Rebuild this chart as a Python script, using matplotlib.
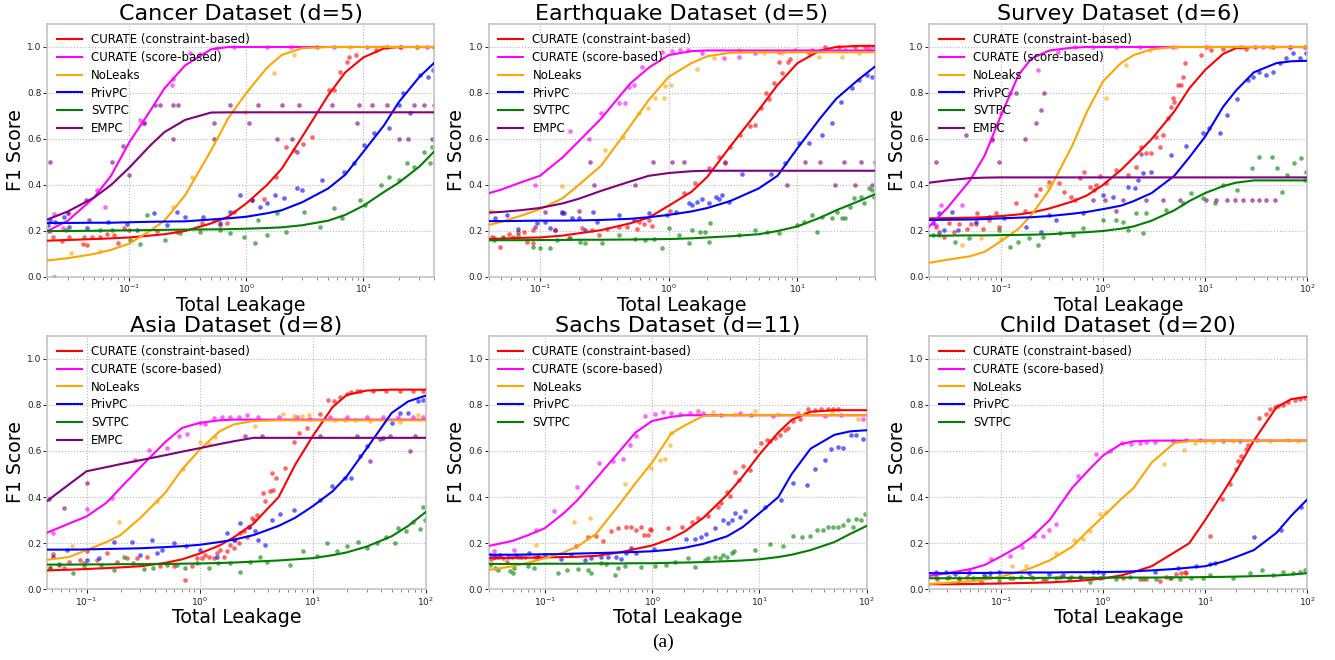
import matplotlib
matplotlib.use("Agg")
import matplotlib.pyplot as plt

# ---------------- DATA ----------------
methods = ["CURATE (constraint-based)", "CURATE (score-based)", "NoLeaks", "PrivPC", "SVTPC", "EMPC"]
colors = ["red", "magenta", "orange", "blue", "green", "purple"]
titles = ["Cancer Dataset (d=5)", "Earthquake Dataset (d=5)", "Survey Dataset (d=6)",
          "Asia Dataset (d=8)", "Sachs Dataset (d=11)", "Child Dataset (d=20)"]
xlims = [(0.02, 40), (0.04, 40), (0.02, 100), (0.045, 100), (0.03, 100), (0.02, 100)]

# ---- Cancer ----
cancer_lx = [0.02, 0.03, 0.05, 0.07, 0.1, 0.15, 0.2, 0.3, 0.5, 0.7, 1, 1.5, 2, 3, 5, 7, 10, 15, 20, 30, 40]
cancer_constraint = [0.158, 0.161, 0.165, 0.168, 0.172, 0.18, 0.186, 0.20, 0.233, 0.262, 0.32, 0.40, 0.47, 0.61, 0.79, 0.89, 0.955, 0.994, 1.0, 1.0, 1.0]
cancer_score = [0.20, 0.245, 0.345, 0.44, 0.585, 0.72, 0.82, 0.92, 0.99, 1.0, 1.0, 1.0, 1.0, 1.0, 1.0, 1.0, 1.0, 1.0, 1.0, 1.0, 1.0]
cancer_noleaks = [0.072, 0.082, 0.10, 0.118, 0.145, 0.20, 0.245, 0.355, 0.55, 0.69, 0.80, 0.91, 0.965, 0.995, 1.0, 1.0, 1.0, 1.0, 1.0, 1.0, 1.0]
cancer_privpc = [0.235, 0.235, 0.236, 0.236, 0.238, 0.24, 0.241, 0.242, 0.25, 0.255, 0.262, 0.277, 0.29, 0.325, 0.385, 0.445, 0.545, 0.66, 0.76, 0.87, 0.93]
cancer_svtpc = [0.20, 0.20, 0.201, 0.202, 0.203, 0.204, 0.205, 0.206, 0.207, 0.208, 0.21, 0.213, 0.216, 0.225, 0.245, 0.27, 0.31, 0.37, 0.41, 0.48, 0.545]
cancer_empc = [0.25, 0.285, 0.345, 0.40, 0.475, 0.57, 0.63, 0.683, 0.715, 0.716, 0.716, 0.716, 0.716, 0.716, 0.716, 0.716, 0.716, 0.716, 0.716, 0.716, 0.716]

cancer_constraint_pts = [(0.0223, 0.172), (0.0266, 0.158), (0.0307, 0.172), (0.0402, 0.142), (0.044, 0.139), (0.0486, 0.172),
    (0.0565, 0.172), (0.0653, 0.187), (0.0735, 0.183), (0.081, 0.146), (0.0895, 0.214), (0.0987, 0.204), (0.172, 0.20),
    (0.255, 0.194), (0.418, 0.236), (0.526, 0.248), (0.60, 0.226), (0.684, 0.236), (0.78, 0.281), (1.12, 0.335),
    (1.41, 0.34), (1.78, 0.436), (2.18, 0.564), (2.54, 0.552), (3.05, 0.577), (3.64, 0.61), (5.06, 0.813), (5.58, 0.813),
    (6.28, 0.893), (7.25, 0.936), (7.5, 0.958), (8.55, 0.965), (12.7, 0.987), (15.9, 1.0), (20.7, 1.0), (28.7, 1.0), (39.9, 1.0)]
cancer_score_pts = [(0.021, 0.20), (0.023, 0.272), (0.027, 0.215), (0.03, 0.277), (0.053, 0.378), (0.062, 0.306), (0.124, 0.683),
    (0.134, 0.668), (0.232, 0.835), (0.235, 0.86), (0.332, 0.975), (0.40, 0.97), (0.56, 0.997), (0.78, 1.0), (1.5, 1.0),
    (2.4, 1.0), (4.0, 1.0), (5.6, 1.0), (10.7, 1.0), (20.8, 1.0), (35, 1.0)]
cancer_noleaks_pts = [(0.032, 0.103), (0.056, 0.114), (0.235, 0.306), (0.343, 0.436), (0.98, 0.719), (1.71, 0.886), (2.54, 0.965),
    (4.0, 1.0), (7.7, 1.0), (14.9, 1.0), (28.7, 1.0), (40, 1.0)]
cancer_privpc_pts = [(0.0204, 0.226), (0.021, 0.248), (0.0233, 0.24), (0.0275, 0.262), (0.0304, 0.219), (0.0434, 0.212),
    (0.0665, 0.238), (0.0955, 0.229), (0.117, 0.204), (0.162, 0.277), (0.21, 0.226), (0.256, 0.284), (0.30, 0.262),
    (0.43, 0.262), (0.60, 0.233), (0.73, 0.284), (0.89, 0.357), (1.12, 0.335), (1.32, 0.306), (1.5, 0.32), (1.77, 0.357),
    (2.08, 0.342), (2.71, 0.386), (3.0, 0.378), (4.43, 0.422), (6.8, 0.458), (8.3, 0.494), (10.1, 0.574), (12.2, 0.625),
    (16.4, 0.646), (20, 0.748), (21.9, 0.80), (25.2, 0.712), (30.6, 0.878), (35.3, 0.871), (39.4, 0.90)]
cancer_svtpc_pts = [(0.0204, 0.20), (0.029, 0.204), (0.041, 0.172), (0.0565, 0.204), (0.071, 0.204), (0.102, 0.161), (0.124, 0.142),
    (0.141, 0.27), (0.203, 0.161), (0.273, 0.19), (0.405, 0.197), (0.60, 0.204), (0.73, 0.19), (0.95, 0.175), (1.19, 0.149),
    (1.27, 0.248), (1.5, 0.183), (1.83, 0.277), (2.16, 0.197), (3.09, 0.284), (4.29, 0.219), (5.58, 0.299), (6.56, 0.255),
    (9.4, 0.335), (10.4, 0.313), (14, 0.40), (16.4, 0.436), (20, 0.422), (23.6, 0.494), (26.9, 0.48), (32.7, 0.545),
    (37.3, 0.494), (38.7, 0.567)]
cancer_empc_pts = [(0.021, 0.499), (0.023, 0.0), (0.03, 0.28), (0.043, 0.335), (0.045, 0.248), (0.071, 0.499), (0.089, 0.571),
    (0.10, 0.443), (0.134, 0.668), (0.166, 0.749), (0.184, 0.749), (0.235, 0.749), (0.235, 0.60), (0.259, 0.749),
    (0.526, 0.60), (0.526, 0.668), (0.73, 0.749), (1.05, 0.668), (1.27, 0.749), (1.83, 0.60), (2.0, 0.749), (2.45, 0.60),
    (2.71, 0.545), (2.8, 0.749), (5.4, 0.749), (8.8, 0.668), (9.1, 0.749), (11.9, 0.749), (15.9, 0.749), (20, 0.60),
    (24, 0.60), (27, 0.749), (32.7, 0.749), (38.7, 0.60), (40, 0.749)]

# ---- Earthquake ----
earth_lx = [0.04, 0.05, 0.07, 0.1, 0.15, 0.2, 0.3, 0.5, 0.7, 1, 1.5, 2, 3, 5, 7, 10, 15, 20, 30, 40]
earth_constraint = [0.165, 0.167, 0.17, 0.172, 0.18, 0.19, 0.204, 0.233, 0.258, 0.31, 0.37, 0.436, 0.567, 0.726, 0.835, 0.93, 0.985, 1.0, 1.005, 1.005]
earth_score = [0.364, 0.38, 0.41, 0.44, 0.52, 0.59, 0.69, 0.84, 0.91, 0.965, 0.982, 0.985, 0.985, 0.985, 0.985, 0.985, 0.985, 0.985, 0.985, 0.985]
earth_noleaks = [0.226, 0.24, 0.265, 0.295, 0.342, 0.40, 0.485, 0.655, 0.77, 0.87, 0.93, 0.96, 0.975, 0.977, 0.977, 0.977, 0.977, 0.977, 0.977, 0.977]
earth_privpc = [0.243, 0.243, 0.244, 0.245, 0.245, 0.246, 0.248, 0.253, 0.26, 0.27, 0.285, 0.30, 0.33, 0.385, 0.44, 0.56, 0.69, 0.775, 0.86, 0.915]
earth_svtpc = [0.16, 0.16, 0.16, 0.161, 0.161, 0.162, 0.162, 0.163, 0.164, 0.165, 0.168, 0.172, 0.177, 0.186, 0.20, 0.22, 0.258, 0.29, 0.33, 0.36]
earth_empc = [0.28, 0.283, 0.29, 0.30, 0.32, 0.34, 0.375, 0.415, 0.44, 0.452, 0.46, 0.462, 0.462, 0.462, 0.462, 0.462, 0.462, 0.462, 0.462, 0.462]

earth_constraint_pts = [(0.0424, 0.172), (0.044, 0.17), (0.049, 0.132), (0.052, 0.171), (0.057, 0.186), (0.062, 0.175),
    (0.068, 0.196), (0.075, 0.196), (0.079, 0.154), (0.088, 0.149), (0.088, 0.204), (0.132, 0.204), (0.169, 0.171),
    (0.212, 0.212), (0.254, 0.204), (0.289, 0.183), (0.332, 0.207), (0.409, 0.216), (0.474, 0.219), (0.567, 0.207),
    (0.584, 0.24), (0.639, 0.23), (0.70, 0.248), (0.742, 0.223), (1.03, 0.287), (1.31, 0.367), (1.61, 0.41), (2.04, 0.472),
    (2.47, 0.523), (2.75, 0.497), (3.0, 0.567), (3.6, 0.617), (4.3, 0.657), (4.71, 0.66), (5.25, 0.733), (5.65, 0.80),
    (6.0, 0.772), (6.55, 0.842), (7.17, 0.936), (7.6, 0.886), (8.5, 0.936), (8.8, 0.95), (12.2, 0.972), (16.5, 1.0),
    (21, 1.0), (28, 1.0), (33.7, 1.0), (39, 1.0)]
earth_score_pts = [(0.091, 0.40), (0.172, 0.635), (0.242, 0.599), (0.30, 0.711), (0.409, 0.755), (0.46, 0.758), (0.49, 0.825),
    (0.535, 0.835), (0.62, 0.914), (0.887, 0.98), (1.06, 0.984), (1.22, 0.987), (1.41, 0.987), (1.81, 0.972), (2.68, 0.954),
    (3.5, 0.958), (4.71, 0.972), (7.17, 0.98), (9.6, 0.987), (13, 0.987), (23.6, 0.987), (35.8, 0.994)]
earth_noleaks_pts = [(0.0418, 0.287), (0.148, 0.397), (0.322, 0.552), (0.442, 0.61), (0.585, 0.711), (0.69, 0.733),
    (0.788, 0.777), (0.914, 0.78), (0.94, 0.832), (1.05, 0.835), (1.66, 0.903), (2.24, 0.954), (3.5, 0.987), (5.47, 0.972),
    (7.6, 0.972), (14.6, 0.958), (22, 0.958), (30, 0.972)]
earth_privpc_pts = [(0.045, 0.255), (0.055, 0.27), (0.068, 0.207), (0.095, 0.233), (0.11, 0.24), (0.12, 0.214), (0.148, 0.284),
    (0.153, 0.277), (0.177, 0.255), (0.20, 0.255), (0.225, 0.204), (0.26, 0.284), (0.277, 0.24), (0.409, 0.27),
    (0.535, 0.248), (0.70, 0.277), (0.97, 0.27), (1.13, 0.284), (1.43, 0.32), (1.52, 0.313), (1.66, 0.328), (1.81, 0.338),
    (2.04, 0.32), (2.33, 0.349), (2.45, 0.339), (2.6, 0.357), (2.93, 0.328), (3.7, 0.446), (6.2, 0.446), (8.06, 0.494),
    (10.3, 0.581), (12.2, 0.581), (15.5, 0.617), (18.6, 0.668), (21.6, 0.762), (26.5, 0.82), (29.8, 0.857), (34.6, 0.878),
    (37.9, 0.871)]
earth_svtpc_pts = [(0.0436, 0.161), (0.052, 0.175), (0.068, 0.183), (0.088, 0.132), (0.1, 0.125), (0.12, 0.125), (0.136, 0.161),
    (0.172, 0.168), (0.206, 0.154), (0.225, 0.146), (0.304, 0.149), (0.409, 0.183), (0.55, 0.164), (0.66, 0.161),
    (0.765, 0.164), (0.887, 0.125), (1.0, 0.212), (1.2, 0.183), (1.43, 0.146), (1.52, 0.204), (1.76, 0.197), (1.9, 0.197),
    (2.04, 0.154), (2.1, 0.236), (3.5, 0.183), (4.71, 0.204), (5.8, 0.197), (7.17, 0.19), (9.9, 0.226), (11.2, 0.241),
    (13, 0.27), (14.2, 0.197), (15.5, 0.262), (18.6, 0.255), (20.4, 0.284), (22.2, 0.255), (23.6, 0.255), (25.8, 0.306),
    (27.4, 0.342), (30.9, 0.349), (32.7, 0.32), (35.8, 0.386), (37.9, 0.378), (39.5, 0.349)]
earth_empc_pts = [(0.092, 0.219), (0.11, 0.284), (0.132, 0.204), (0.148, 0.28), (0.20, 0.287), (0.246, 0.499), (0.262, 0.40),
    (0.545, 0.40), (0.75, 0.499), (1.06, 0.499), (1.31, 0.499), (2.75, 0.499), (8.3, 0.40), (11.5, 0.499), (15, 0.499),
    (19.7, 0.40), (22.9, 0.499), (28, 0.40), (30.9, 0.499), (37.9, 0.40), (40, 0.499)]

# ---- Survey ----
survey_lx = [0.02, 0.03, 0.05, 0.07, 0.1, 0.15, 0.2, 0.3, 0.5, 0.7, 1, 1.5, 2, 3, 5, 7, 10, 15, 20, 30, 50, 70, 100]
survey_constraint = [0.255, 0.256, 0.258, 0.26, 0.265, 0.272, 0.28, 0.298, 0.328, 0.355, 0.40, 0.465, 0.52, 0.60, 0.72, 0.82, 0.90, 0.97, 0.995, 1.0, 1.0, 1.0, 1.0]
survey_score = [0.22, 0.30, 0.42, 0.53, 0.70, 0.88, 0.95, 0.985, 0.997, 1.0, 1.0, 1.0, 1.0, 1.0, 1.0, 1.0, 1.0, 1.0, 1.0, 1.0, 1.0, 1.0, 1.0]
survey_noleaks = [0.062, 0.075, 0.09, 0.11, 0.155, 0.21, 0.27, 0.38, 0.57, 0.72, 0.85, 0.93, 0.965, 0.99, 1.0, 1.0, 1.0, 1.0, 1.0, 1.0, 1.0, 1.0, 1.0]
survey_privpc = [0.248, 0.249, 0.25, 0.252, 0.255, 0.258, 0.26, 0.265, 0.275, 0.283, 0.295, 0.31, 0.33, 0.365, 0.44, 0.52, 0.61, 0.74, 0.81, 0.89, 0.93, 0.938, 0.94]
survey_svtpc = [0.18, 0.18, 0.181, 0.181, 0.182, 0.183, 0.184, 0.186, 0.192, 0.195, 0.20, 0.21, 0.22, 0.245, 0.29, 0.33, 0.365, 0.395, 0.41, 0.42, 0.42, 0.42, 0.42]
survey_empc = [0.41, 0.42, 0.43, 0.432, 0.433, 0.433, 0.433, 0.433, 0.433, 0.433, 0.433, 0.433, 0.433, 0.433, 0.433, 0.433, 0.433, 0.433, 0.433, 0.433, 0.433, 0.433, 0.433]

survey_constraint_pts = [(0.0232, 0.219), (0.028, 0.175), (0.031, 0.233), (0.035, 0.194), (0.039, 0.23), (0.047, 0.209),
    (0.051, 0.23), (0.057, 0.23), (0.059, 0.277), (0.067, 0.21), (0.077, 0.248), (0.09, 0.277), (0.097, 0.219),
    (0.141, 0.323), (0.171, 0.288), (0.222, 0.357), (0.24, 0.384), (0.30, 0.413), (0.37, 0.41), (0.42, 0.371),
    (0.49, 0.349), (0.53, 0.335), (0.59, 0.432), (0.66, 0.458), (0.74, 0.393), (0.81, 0.378), (0.85, 0.40), (0.93, 0.439),
    (1.08, 0.407), (1.35, 0.465), (1.76, 0.443), (2.12, 0.48), (2.38, 0.567), (2.66, 0.538), (2.98, 0.538), (3.33, 0.61),
    (3.6, 0.567), (3.87, 0.617), (4.34, 0.69), (4.67, 0.74), (4.85, 0.777), (5.0, 0.762), (5.43, 0.835), (5.86, 0.835),
    (6.1, 0.871), (6.3, 0.929), (9.2, 0.965), (11.5, 0.987), (15, 0.991), (25, 0.991), (31, 1.0), (46, 1.0), (67, 1.0), (95, 1.0)]
survey_score_pts = [(0.023, 0.226), (0.026, 0.313), (0.042, 0.313), (0.083, 0.596), (0.10, 0.712), (0.23, 0.90), (0.36, 0.98),
    (0.53, 1.0), (0.8, 1.0), (1.35, 1.0), (2.3, 1.0), (4.85, 1.0), (10.3, 1.0), (22, 1.0), (37, 1.0), (67, 1.0), (95, 1.0)]
survey_noleaks_pts = [(0.042, 0.139), (0.064, 0.168), (0.10, 0.164), (0.29, 0.396), (1.08, 0.78), (1.69, 0.922), (2.86, 0.987),
    (5.2, 1.0), (11, 1.0), (23.6, 1.0), (43, 1.0), (95, 1.0)]
survey_privpc_pts = [(0.0216, 0.236), (0.025, 0.277), (0.028, 0.204), (0.033, 0.281), (0.038, 0.204), (0.057, 0.238),
    (0.077, 0.262), (0.108, 0.255), (0.177, 0.219), (0.249, 0.197), (0.30, 0.27), (0.35, 0.248), (0.64, 0.277),
    (1.0, 0.357), (1.25, 0.349), (1.76, 0.393), (2.04, 0.386), (2.2, 0.422), (2.47, 0.451), (2.98, 0.458), (4.67, 0.53),
    (6.55, 0.57), (9.5, 0.625), (11, 0.646), (13.9, 0.625), (16.2, 0.704), (20.3, 0.774), (26.3, 0.857), (29.5, 0.871),
    (34, 0.893), (39.8, 0.878), (46, 0.893), (54, 0.929), (62, 0.951), (73, 0.972), (85, 0.951), (98, 0.972)]
survey_svtpc_pts = [(0.0216, 0.183), (0.025, 0.183), (0.036, 0.154), (0.049, 0.168), (0.097, 0.204), (0.122, 0.132),
    (0.147, 0.154), (0.19, 0.168), (0.23, 0.139), (0.258, 0.175), (0.376, 0.19), (0.51, 0.183), (0.64, 0.212), (1.0, 0.248),
    (1.35, 0.248), (1.57, 0.241), (1.76, 0.204), (2.12, 0.277), (2.47, 0.19), (2.66, 0.277), (4.17, 0.291), (6.1, 0.32),
    (7.35, 0.364), (9.5, 0.342), (12.4, 0.32), (15, 0.40), (20.3, 0.378), (28.5, 0.472), (34, 0.523), (45, 0.523),
    (51, 0.472), (57, 0.371), (64, 0.443), (74, 0.494), (86, 0.516), (95, 0.422), (98, 0.458)]
survey_empc_pts = [(0.023, 0.499), (0.025, 0.197), (0.046, 0.617), (0.083, 0.60), (0.097, 0.499), (0.122, 0.80), (0.141, 0.80),
    (0.171, 0.60), (0.222, 0.668), (0.249, 0.726), (0.268, 0.80), (0.80, 0.335), (1.04, 0.335), (1.35, 0.287),
    (1.57, 0.335), (2.38, 0.535), (2.66, 0.335), (3.87, 0.335), (5.65, 0.335), (10.3, 0.335), (12.9, 0.335),
    (16.2, 0.335), (19.5, 0.335), (23.6, 0.335), (28.5, 0.335), (34, 0.335), (39.8, 0.335), (48, 0.335)]

# ---- Asia ----
asia_lx = [0.045, 0.07, 0.1, 0.15, 0.2, 0.3, 0.5, 0.7, 1, 1.5, 2, 3, 5, 7, 10, 15, 20, 30, 50, 70, 100]
asia_constraint = [0.082, 0.085, 0.088, 0.092, 0.095, 0.10, 0.115, 0.13, 0.155, 0.19, 0.225, 0.285, 0.40, 0.54, 0.664, 0.79, 0.843, 0.862, 0.866, 0.866, 0.866]
asia_score = [0.246, 0.285, 0.316, 0.375, 0.44, 0.53, 0.64, 0.70, 0.722, 0.733, 0.736, 0.736, 0.736, 0.736, 0.736, 0.736, 0.736, 0.736, 0.736, 0.736, 0.736]
asia_noleaks = [0.128, 0.14, 0.17, 0.205, 0.235, 0.31, 0.42, 0.52, 0.605, 0.685, 0.715, 0.73, 0.733, 0.733, 0.733, 0.733, 0.733, 0.733, 0.733, 0.733, 0.733]
asia_privpc = [0.172, 0.172, 0.173, 0.175, 0.176, 0.178, 0.183, 0.187, 0.193, 0.205, 0.215, 0.235, 0.275, 0.31, 0.36, 0.425, 0.49, 0.61, 0.765, 0.815, 0.84]
asia_svtpc = [0.107, 0.107, 0.108, 0.108, 0.109, 0.109, 0.11, 0.111, 0.112, 0.114, 0.116, 0.12, 0.125, 0.13, 0.135, 0.148, 0.16, 0.185, 0.23, 0.275, 0.335]
asia_empc = [0.384, 0.455, 0.512, 0.53, 0.543, 0.56, 0.582, 0.597, 0.612, 0.63, 0.642, 0.657, 0.657, 0.657, 0.657, 0.657, 0.657, 0.657, 0.657, 0.657, 0.657]

asia_constraint_pts = [(0.0473, 0.094), (0.051, 0.152), (0.057, 0.106), (0.063, 0.094), (0.07, 0.117), (0.088, 0.128),
    (0.095, 0.116), (0.10, 0.167), (0.124, 0.128), (0.152, 0.157), (0.186, 0.12), (0.228, 0.135), (0.279, 0.135),
    (0.343, 0.142), (0.45, 0.099), (0.589, 0.099), (0.747, 0.041), (0.855, 0.099), (0.947, 0.135), (1.05, 0.135),
    (1.12, 0.149), (1.2, 0.142), (1.33, 0.135), (1.42, 0.159), (1.52, 0.171), (1.63, 0.142), (1.74, 0.164), (1.87, 0.193),
    (2.0, 0.178), (2.07, 0.214), (2.21, 0.20), (2.29, 0.243), (2.45, 0.251), (2.62, 0.229), (2.71, 0.272), (2.9, 0.309),
    (3.0, 0.301), (3.21, 0.323), (3.67, 0.417), (3.8, 0.381), (4.2, 0.425), (4.35, 0.504), (4.5, 0.432), (4.76, 0.483),
    (5.7, 0.526), (6.8, 0.639), (7.5, 0.678), (8.9, 0.70), (11.7, 0.762), (13.8, 0.82), (15.3, 0.816), (17.5, 0.835),
    (20, 0.845), (22, 0.855), (24.5, 0.859), (26.3, 0.859), (34.4, 0.862), (45, 0.862), (59, 0.862), (78, 0.862), (95, 0.862)]
asia_score_pts = [(0.051, 0.243), (0.10, 0.348), (0.168, 0.396), (0.27, 0.559), (0.354, 0.606), (0.515, 0.613), (0.652, 0.667),
    (0.773, 0.675), (1.0, 0.722), (1.12, 0.719), (1.33, 0.743), (1.57, 0.748), (1.87, 0.748), (2.21, 0.748), (2.62, 0.758),
    (3.32, 0.748), (5.0, 0.748), (7.25, 0.748), (9.5, 0.739), (14.3, 0.748), (20, 0.748), (30, 0.748), (42, 0.748),
    (57, 0.748), (78, 0.748), (95, 0.748)]
asia_noleaks_pts = [(0.074, 0.186), (0.192, 0.291), (0.42, 0.381), (0.72, 0.522), (1.01, 0.638), (1.2, 0.632), (1.37, 0.659),
    (3.1, 0.71), (5.5, 0.761), (6.8, 0.751), (8.0, 0.751), (9.2, 0.758), (15.8, 0.736), (19.3, 0.736), (23.6, 0.736),
    (32, 0.729), (59, 0.725), (86, 0.758)]
asia_privpc_pts = [(0.051, 0.142), (0.067, 0.171), (0.10, 0.128), (0.128, 0.135), (0.174, 0.204), (0.252, 0.207), (0.3, 0.149),
    (0.38, 0.214), (0.42, 0.157), (0.465, 0.171), (0.589, 0.20), (0.76, 0.186), (1.01, 0.171), (1.42, 0.142),
    (1.74, 0.243), (2.0, 0.214), (2.29, 0.287), (2.71, 0.272), (3.1, 0.251), (3.32, 0.214), (3.8, 0.193), (4.35, 0.301),
    (5.16, 0.326), (6.8, 0.345), (11.7, 0.388), (14.8, 0.446), (19.4, 0.483), (22, 0.483), (26.3, 0.577), (30, 0.623),
    (42.2, 0.657), (50, 0.722), (59, 0.765), (70, 0.765), (86, 0.816), (95, 0.823)]
asia_svtpc_pts = [(0.048, 0.091), (0.057, 0.11), (0.076, 0.072), (0.095, 0.099), (0.133, 0.106), (0.174, 0.084), (0.213, 0.142),
    (0.26, 0.116), (0.32, 0.087), (0.39, 0.091), (0.515, 0.106), (0.63, 0.106), (0.75, 0.091), (0.95, 0.113), (1.2, 0.091),
    (1.47, 0.113), (1.87, 0.113), (2.29, 0.077), (2.8, 0.12), (3.4, 0.139), (3.93, 0.12), (6.3, 0.106), (8.3, 0.164),
    (10.9, 0.145), (13.4, 0.20), (16.3, 0.164), (20, 0.186), (25.4, 0.207), (30, 0.178), (36.8, 0.20), (45, 0.226),
    (53.6, 0.20), (57, 0.265), (67, 0.251), (78, 0.294), (89, 0.261), (95, 0.359), (98, 0.301)]
asia_empc_pts = [(0.047, 0.391), (0.063, 0.352), (0.10, 0.461), (2.53, 0.667), (3.55, 0.667), (11.6, 0.667), (24.5, 0.667),
    (32, 0.555), (39.5, 0.652), (48.5, 0.667), (72.5, 0.601), (80, 0.667)]

# ---- Sachs ----
sachs_lx = [0.03, 0.05, 0.07, 0.1, 0.15, 0.2, 0.3, 0.5, 0.7, 1, 1.5, 2, 3, 5, 7, 10, 15, 20, 30, 50, 70, 100]
sachs_constraint = [0.135, 0.136, 0.137, 0.138, 0.14, 0.141, 0.145, 0.16, 0.175, 0.19, 0.22, 0.25, 0.31, 0.41, 0.49, 0.585, 0.68, 0.735, 0.77, 0.777, 0.777, 0.777]
sachs_score = [0.188, 0.21, 0.235, 0.265, 0.33, 0.385, 0.48, 0.60, 0.68, 0.73, 0.748, 0.755, 0.755, 0.755, 0.755, 0.755, 0.755, 0.755, 0.755, 0.755, 0.755, 0.755]
sachs_noleaks = [0.084, 0.10, 0.115, 0.135, 0.16, 0.185, 0.24, 0.37, 0.46, 0.55, 0.675, 0.71, 0.752, 0.755, 0.755, 0.755, 0.755, 0.755, 0.755, 0.755, 0.755, 0.755]
sachs_privpc = [0.15, 0.15, 0.151, 0.152, 0.153, 0.155, 0.157, 0.16, 0.162, 0.165, 0.172, 0.18, 0.197, 0.23, 0.27, 0.33, 0.40, 0.50, 0.61, 0.67, 0.685, 0.69]
sachs_svtpc = [0.11, 0.11, 0.11, 0.111, 0.111, 0.111, 0.112, 0.112, 0.113, 0.113, 0.115, 0.116, 0.118, 0.122, 0.125, 0.13, 0.14, 0.15, 0.17, 0.205, 0.24, 0.275]

sachs_constraint_pts = [(0.0318, 0.13), (0.0336, 0.142), (0.037, 0.142), (0.041, 0.135), (0.044, 0.12), (0.049, 0.142),
    (0.056, 0.142), (0.065, 0.139), (0.081, 0.139), (0.086, 0.142), (0.197, 0.186), (0.253, 0.229), (0.303, 0.233),
    (0.349, 0.21), (0.417, 0.251), (0.482, 0.265), (0.576, 0.272), (0.642, 0.271), (0.714, 0.258), (0.796, 0.272),
    (0.842, 0.235), (0.918, 0.235), (0.951, 0.261), (0.986, 0.258), (1.41, 0.265), (1.88, 0.272), (2.33, 0.294),
    (2.69, 0.309), (3.33, 0.316), (4.12, 0.359), (4.43, 0.374), (4.94, 0.42), (5.3, 0.403), (5.89, 0.509), (6.43, 0.475),
    (7.07, 0.536), (8.16, 0.519), (9.1, 0.599), (10.4, 0.635), (11.7, 0.649), (12.5, 0.642), (13.9, 0.657), (15.5, 0.671),
    (17.3, 0.693), (18.5, 0.70), (20.6, 0.729), (23.8, 0.739), (28.5, 0.78), (32.9, 0.777), (37.8, 0.783), (43.6, 0.783),
    (48.6, 0.784), (54, 0.783)]
sachs_score_pts = [(0.0336, 0.164), (0.052, 0.171), (0.083, 0.258), (0.123, 0.338), (0.201, 0.442), (0.32, 0.548), (0.433, 0.555),
    (0.537, 0.565), (0.62, 0.628), (0.705, 0.664), (0.854, 0.751), (1.06, 0.762), (1.27, 0.768), (1.51, 0.765),
    (1.81, 0.762), (2.24, 0.765), (2.69, 0.772), (3.0, 0.765), (4.43, 0.758), (6.6, 0.765), (8.4, 0.758), (13.4, 0.751),
    (23, 0.765), (40.7, 0.751), (58, 0.754), (92.5, 0.739)]
sachs_noleaks_pts = [(0.0318, 0.113), (0.083, 0.193), (0.188, 0.29), (0.266, 0.309), (0.556, 0.458), (0.972, 0.526), (1.18, 0.562),
    (1.31, 0.565), (1.46, 0.628), (1.51, 0.678), (2.69, 0.765), (3.7, 0.768), (5.9, 0.761), (9.1, 0.772), (15, 0.762),
    (26.5, 0.765), (47, 0.768), (83.7, 0.739)]
sachs_privpc_pts = [(0.0306, 0.149), (0.034, 0.142), (0.038, 0.149), (0.045, 0.142), (0.054, 0.149), (0.06, 0.142), (0.072, 0.157),
    (0.086, 0.142), (0.10, 0.149), (0.143, 0.13), (0.177, 0.149), (0.236, 0.128), (0.272, 0.135), (0.337, 0.142),
    (0.389, 0.142), (0.465, 0.142), (0.517, 0.13), (0.576, 0.157), (0.642, 0.178), (0.714, 0.157), (1.04, 0.174),
    (2.09, 0.217), (2.5, 0.22), (2.88, 0.229), (3.2, 0.239), (3.84, 0.265), (4.6, 0.301), (5.1, 0.287), (5.5, 0.301),
    (5.9, 0.33), (6.6, 0.313), (7.3, 0.341), (11.2, 0.359), (16, 0.388), (20.6, 0.461), (27.5, 0.454), (32.9, 0.522),
    (40.7, 0.562), (46.9, 0.609), (54, 0.617), (60, 0.613), (72, 0.671), (80, 0.671), (92.5, 0.652)]
sachs_svtpc_pts = [(0.031, 0.106), (0.034, 0.091), (0.037, 0.084), (0.047, 0.081), (0.05, 0.072), (0.052, 0.091), (0.07, 0.103),
    (0.08, 0.091), (0.133, 0.07), (0.16, 0.084), (0.204, 0.087), (0.253, 0.084), (0.272, 0.072), (0.337, 0.113),
    (0.375, 0.11), (0.449, 0.062), (0.482, 0.091), (0.556, 0.099), (0.795, 0.096), (1.06, 0.099), (1.36, 0.106),
    (1.63, 0.117), (2.16, 0.135), (2.5, 0.096), (3.1, 0.128), (3.33, 0.135), (3.84, 0.142), (4.27, 0.135), (4.6, 0.149),
    (4.94, 0.142), (5.5, 0.157), (5.8, 0.164), (9.1, 0.171), (12.5, 0.197), (16.6, 0.188), (20.6, 0.232), (24.7, 0.229),
    (29.5, 0.232), (34.1, 0.258), (39.5, 0.258), (43.6, 0.272), (48.6, 0.27), (54, 0.272), (60, 0.28), (67.5, 0.301),
    (75, 0.27), (80, 0.304), (87.8, 0.299), (97, 0.328)]

# ---- Child ----
child_lx = [0.02, 0.03, 0.05, 0.07, 0.1, 0.15, 0.2, 0.3, 0.5, 0.7, 1, 1.5, 2, 3, 5, 7, 10, 15, 20, 30, 50, 70, 100]
child_constraint = [0.022, 0.022, 0.023, 0.024, 0.025, 0.027, 0.028, 0.03, 0.035, 0.04, 0.047, 0.06, 0.075, 0.10, 0.16, 0.20, 0.30, 0.42, 0.51, 0.645, 0.79, 0.825, 0.835]
child_score = [0.058, 0.07, 0.087, 0.106, 0.142, 0.186, 0.225, 0.30, 0.44, 0.51, 0.58, 0.63, 0.642, 0.645, 0.645, 0.645, 0.645, 0.645, 0.645, 0.645, 0.645, 0.645, 0.645]
child_noleaks = [0.023, 0.028, 0.035, 0.042, 0.055, 0.075, 0.093, 0.125, 0.185, 0.25, 0.315, 0.39, 0.44, 0.55, 0.635, 0.643, 0.645, 0.645, 0.645, 0.645, 0.645, 0.645, 0.645]
child_privpc = [0.07, 0.07, 0.071, 0.071, 0.072, 0.072, 0.073, 0.073, 0.074, 0.074, 0.075, 0.076, 0.078, 0.082, 0.088, 0.094, 0.10, 0.12, 0.14, 0.17, 0.245, 0.32, 0.39]
child_svtpc = [0.048, 0.048, 0.048, 0.049, 0.049, 0.049, 0.049, 0.05, 0.05, 0.05, 0.05, 0.051, 0.051, 0.051, 0.052, 0.052, 0.053, 0.054, 0.055, 0.057, 0.06, 0.064, 0.07]

child_constraint_pts = [(0.0238, 0.043), (0.031, 0.055), (0.039, 0.043), (0.047, 0.055), (0.064, 0.033), (0.078, 0.055),
    (0.097, 0.055), (0.131, 0.051), (0.198, 0.055), (0.258, 0.043), (0.376, 0.055), (0.49, 0.055), (0.61, 0.048),
    (0.80, 0.048), (1.0, 0.055), (1.57, 0.048), (2.29, 0.043), (2.66, 0.043), (3.6, 0.038), (4.17, 0.055), (4.67, 0.048),
    (5.2, 0.067), (5.86, 0.07), (6.3, 0.077), (6.45, 0.07), (11.1, 0.233), (14.5, 0.391), (17.5, 0.458), (20, 0.522),
    (21, 0.555), (22.7, 0.58), (25, 0.609), (26.3, 0.628), (34, 0.743), (39.8, 0.761), (43, 0.78), (48, 0.791),
    (52, 0.794), (58, 0.801), (65, 0.812), (75, 0.823), (85, 0.826), (95, 0.83)]
child_score_pts = [(0.023, 0.077), (0.049, 0.084), (0.08, 0.13), (0.122, 0.146), (0.163, 0.183), (0.21, 0.233), (0.258, 0.233),
    (0.30, 0.258), (0.349, 0.283), (0.57, 0.49), (0.86, 0.588), (1.16, 0.599), (1.54, 0.635), (1.9, 0.63), (2.29, 0.635),
    (2.66, 0.638), (3.2, 0.639), (4.85, 0.645), (6.55, 0.649), (8.9, 0.649), (15, 0.645), (21.8, 0.645), (31.9, 0.649)]
child_noleaks_pts = [(0.129, 0.101), (0.177, 0.101), (0.349, 0.157), (0.52, 0.214), (0.64, 0.217), (0.74, 0.251), (0.94, 0.326),
    (1.08, 0.335), (3.93, 0.545), (6.2, 0.603), (7.9, 0.635), (9.9, 0.642), (11.9, 0.639), (15, 0.642), (18.8, 0.645),
    (43, 0.645), (65, 0.649), (81, 0.645)]
child_privpc_pts = [(0.023, 0.072), (0.029, 0.077), (0.036, 0.065), (0.049, 0.072), (0.069, 0.062), (0.078, 0.07), (0.097, 0.075),
    (0.19, 0.07), (0.30, 0.065), (0.405, 0.062), (0.59, 0.055), (0.80, 0.074), (0.89, 0.077), (1.0, 0.07), (3.2, 0.077),
    (5.4, 0.091), (8.2, 0.099), (11.1, 0.11), (12.4, 0.113), (30.2, 0.225), (55, 0.258), (86, 0.357)]
child_svtpc_pts = [(0.023, 0.052), (0.03, 0.048), (0.039, 0.048), (0.053, 0.051), (0.072, 0.055), (0.097, 0.038), (0.122, 0.051),
    (0.159, 0.055), (0.206, 0.051), (0.278, 0.043), (0.349, 0.048), (0.47, 0.043), (0.74, 0.033), (0.93, 0.048),
    (1.35, 0.043), (1.83, 0.055), (2.47, 0.043), (3.33, 0.043), (4.5, 0.048), (5.65, 0.043), (7.35, 0.051), (9.5, 0.051),
    (11.1, 0.062), (18.8, 0.048), (27.4, 0.07), (36, 0.084), (46, 0.062), (58, 0.075), (73, 0.07), (85, 0.077), (95, 0.084)]

datasets = [
    (cancer_lx, [cancer_constraint, cancer_score, cancer_noleaks, cancer_privpc, cancer_svtpc, cancer_empc],
     [cancer_constraint_pts, cancer_score_pts, cancer_noleaks_pts, cancer_privpc_pts, cancer_svtpc_pts, cancer_empc_pts]),
    (earth_lx, [earth_constraint, earth_score, earth_noleaks, earth_privpc, earth_svtpc, earth_empc],
     [earth_constraint_pts, earth_score_pts, earth_noleaks_pts, earth_privpc_pts, earth_svtpc_pts, earth_empc_pts]),
    (survey_lx, [survey_constraint, survey_score, survey_noleaks, survey_privpc, survey_svtpc, survey_empc],
     [survey_constraint_pts, survey_score_pts, survey_noleaks_pts, survey_privpc_pts, survey_svtpc_pts, survey_empc_pts]),
    (asia_lx, [asia_constraint, asia_score, asia_noleaks, asia_privpc, asia_svtpc, asia_empc],
     [asia_constraint_pts, asia_score_pts, asia_noleaks_pts, asia_privpc_pts, asia_svtpc_pts, asia_empc_pts]),
    (sachs_lx, [sachs_constraint, sachs_score, sachs_noleaks, sachs_privpc, sachs_svtpc],
     [sachs_constraint_pts, sachs_score_pts, sachs_noleaks_pts, sachs_privpc_pts, sachs_svtpc_pts]),
    (child_lx, [child_constraint, child_score, child_noleaks, child_privpc, child_svtpc],
     [child_constraint_pts, child_score_pts, child_noleaks_pts, child_privpc_pts, child_svtpc_pts]),
]

# ---------------- LAYOUT ----------------
W, H = 1335, 660
# pixel boxes (left, top, right, bottom)
boxes = [(47.3, 24, 434, 277), (488.7, 24, 875, 277), (929.3, 24, 1307.3, 277),
         (47.3, 335.7, 425.7, 589.3), (488.7, 335.7, 866.7, 589.3), (929.3, 335.7, 1307.3, 589.3)]

fig = plt.figure(figsize=(W / 100, H / 100), dpi=100)

for i, (lx, lines, pts) in enumerate(datasets):
    l, t, r, b = boxes[i]
    ax = fig.add_axes([l / W, 1 - b / H, (r - l) / W, (b - t) / H])
    for k in range(len(lines)):
        xs = [p[0] for p in pts[k]]
        ys = [p[1] for p in pts[k]]
        ax.scatter(xs, ys, s=11, color=colors[k], alpha=0.6, linewidths=0, zorder=2)
    for k in range(len(lines)):
        ax.plot(lx, lines[k], color=colors[k], lw=1.5, label=methods[k], zorder=3)
    ax.set_xscale("log")
    ax.set_xlim(*xlims[i])
    ax.set_ylim(0, 1.1)
    ax.set_yticks([0.0, 0.2, 0.4, 0.6, 0.8, 1.0])
    ax.grid(True, which="major", linestyle=":", color="#b8b8b8", linewidth=0.8)
    ax.set_axisbelow(True)
    for sp in ax.spines.values():
        sp.set_color("#c4c4c4")
        sp.set_linewidth(1.2)
    ax.tick_params(axis="both", which="major", labelsize=6.5, length=3, width=0.7, pad=1.2, colors="#222222")
    ax.tick_params(axis="both", which="minor", length=1.8, width=0.5, colors="#555555")
    ax.set_title(titles[i], fontsize=16, pad=3)
    ax.set_xlabel("Total Leakage", fontsize=13.6, labelpad=0.5)
    ax.set_ylabel("F1 Score", fontsize=13.6, labelpad=1.5)
    ax.legend(loc="upper left", frameon=False, fontsize=8.5, labelspacing=0.4,
              handlelength=2.1, handletextpad=0.8, borderaxespad=0.4, borderpad=0.4)

fig.text(0.497, 1 - 642 / H, "(a)", ha="center", va="center", fontsize=14,
         family=["Liberation Serif", "DejaVu Serif"])

fig.savefig("out.png", dpi=100)
